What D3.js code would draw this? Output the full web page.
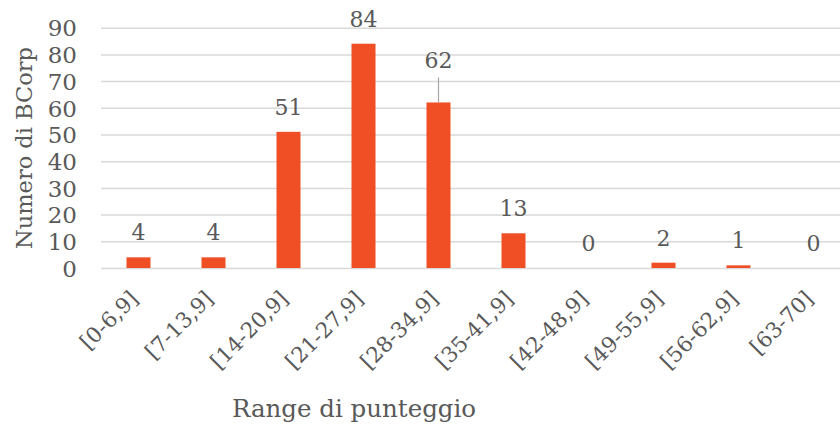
<!DOCTYPE html>
<html>
<head>
<meta charset="utf-8">
<script src="https://cdn.jsdelivr.net/npm/d3@7"></script>
<style>
  html, body { margin: 0; padding: 0; background: #fff; }
  svg { display: block; }
  text { font-family: "DejaVu Serif", serif; fill: #595959; }
</style>
</head>
<body>
<svg id="chart" width="840" height="430"></svg>
<script>
// Distribution of BCorps across score ranges
const categories = ["[0-6,9]", "[7-13,9]", "[14-20,9]", "[21-27,9]", "[28-34,9]",
                    "[35-41,9]", "[42-48,9]", "[49-55,9]", "[56-62,9]", "[63-70]"];
const counts = [4, 4, 51, 84, 62, 13, 0, 2, 1, 0];
const yTicks = [0, 10, 20, 30, 40, 50, 60, 70, 80, 90];
const yTitle = "Numero di BCorp";
const xTitle = "Range di punteggio";

const svg = d3.select("#chart");
const plot = { left: 101, right: 851, top: 27.7, bottom: 268 };

const x = d3.scaleBand()
  .domain(categories)
  .range([plot.left, plot.right])
  .paddingInner(0.68)
  .paddingOuter(0.34);

const y = d3.scaleLinear()
  .domain([0, 90])
  .range([plot.bottom, plot.top]);

// horizontal gridlines
const grid = svg.append("g")
  .attr("transform", `translate(${plot.left},0)`)
  .call(d3.axisLeft(y).tickValues(yTicks).tickSize(-(plot.right - plot.left)).tickFormat(""));
grid.select(".domain").remove();
grid.selectAll("line").attr("stroke", "#d9d9d9").attr("stroke-width", 1.5);

// y tick labels
const yAxis = svg.append("g")
  .attr("transform", `translate(${plot.left - 24},0)`)
  .call(d3.axisLeft(y).tickValues(yTicks).tickSize(0).tickPadding(0));
yAxis.select(".domain").remove();
yAxis.selectAll("text")
  .style("font-size", "23px")
  .attr("fill", "#595959")
  .attr("dy", "0.36em");

// bars
svg.append("g").selectAll("rect")
  .data(counts)
  .join("rect")
  .attr("x", (d, i) => x(categories[i]))
  .attr("width", x.bandwidth())
  .attr("y", d => y(d))
  .attr("height", d => y(0) - y(d))
  .attr("fill", "#f04e24");

// value labels; the fifth one sits higher with a leader line to its bar
const lifted = { index: 4, extra: 17 };
const labelY = (d, i) => y(d) - 17 - (i === lifted.index ? lifted.extra : 0);

svg.append("line")
  .attr("x1", x(categories[lifted.index]) + x.bandwidth() / 2)
  .attr("x2", x(categories[lifted.index]) + x.bandwidth() / 2)
  .attr("y1", labelY(counts[lifted.index], lifted.index) + 9)
  .attr("y2", y(counts[lifted.index]))
  .attr("stroke", "#a6a6a6")
  .attr("stroke-width", 1.2);

svg.append("g").selectAll("text")
  .data(counts)
  .join("text")
  .attr("x", (d, i) => x(categories[i]) + x.bandwidth() / 2)
  .attr("y", labelY)
  .attr("text-anchor", "middle")
  .style("font-size", "22px")
  .text(d => d);

// x category labels, rotated
svg.append("g").selectAll("text")
  .data(categories)
  .join("text")
  .attr("text-anchor", "end")
  .attr("transform", d => `translate(${x(d) + x.bandwidth() / 2 + 1},${plot.bottom + 32}) rotate(-45)`)
  .style("font-size", "21.5px")
  .text(d => d);

// axis titles
svg.append("text")
  .attr("x", 354)
  .attr("y", 417)
  .attr("text-anchor", "middle")
  .style("font-size", "24.5px")
  .text(xTitle);

svg.append("text")
  .attr("transform", `translate(32,148) rotate(-90)`)
  .attr("text-anchor", "middle")
  .style("font-size", "22.5px")
  .text(yTitle);
</script>
</body>
</html>
